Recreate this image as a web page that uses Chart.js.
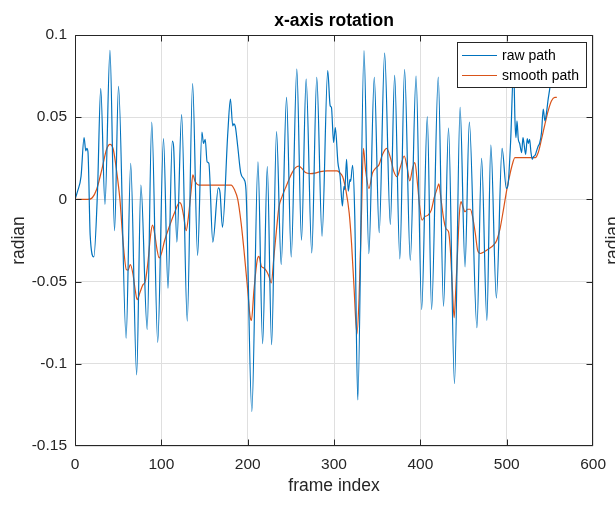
<!DOCTYPE html>
<html><head><meta charset="utf-8">
<script src="https://cdn.jsdelivr.net/npm/chart.js@4.4.1/dist/chart.umd.min.js"></script>
<style>html,body{margin:0;padding:0;background:#fff;overflow:hidden}canvas{display:block}</style>
</head><body>
<canvas id="c" width="615" height="505"></canvas>
<script>
const chartTitle = 'x-axis rotation';
const xAxisLabel = 'frame index';
const yAxisLabel = 'radian';
const seriesNames = ['raw path', 'smooth path'];
const xTickValues = [0, 100, 200, 300, 400, 500, 600];
const xTickLabels = ['0', '100', '200', '300', '400', '500', '600'];
const yTickValues = [-0.15, -0.1, -0.05, 0, 0.05, 0.1];
const yTickLabels = ['-0.15', '-0.1', '-0.05', '0', '0.05', '0.1'];

const rawX = [0,3,7,10.5,12.5,13.7,15,17.6,21.8,26,29.8,34.7,40.5,45.8,50.4,59.2,64.5,71.4,76.3,83.6,88.9,95.8,
 102.5,107.7,112.7,114.2,118,123.5,130,136.2,142,147,148.8,150.8,153,155,159.6,166,168,170.8,177,180,182.7,184,185.8,188.5,192,196,198,
 204.8,211.9,217.3,222.7,227.7,233.4,238.8,245,250.4,256.9,262.3,267.7,274.2,280,286.1,292.7,295.5,297,299.5,
 301.5,304.5,307,309.7,311.5,312.5,314.5,316.5,318.5,319.2,321.5,324,327.5,334.7,340.3,346.6,352.3,358.6,365.2,370.2,376.2,381.7,388.3,395,
 401.5,408,413,420.7,426.8,432.6,439.5,446,451.7,456.7,465.5,470.9,477,481.6,488,494.6,499.6,
 501.5,504.5,508,509.6,510.7,511.9,513.4,515,517.3,518.8,520,521.9,523.8,525,526.5,528,529.6,531,533,534.6,536.5,538,540.3,542.3,544.2,546.1,548,550,553];
const rawY = [0,0.005,0.014,0.0376,0.0295,0.031,0.029,-0.022,-0.035,0.004,0.0675,-0.003,0.0907,-0.019,0.0687,-0.0844,0.022,-0.1067,0.0087,-0.079,0.047,-0.087,
 0.037,-0.054,0.0354,0.032,-0.026,0.0516,-0.074,0.0705,-0.034,0.041,0.034,0.0366,0.0228,0.022,-0.026,0.007,0.004,-0.017,0.0407,0.061,0.0447,0.046,0.044,0.032,0.016,0.012,0.006,
 -0.129,0.0228,-0.0878,0.02,-0.0884,0.0413,-0.0396,0.062,-0.035,0.0793,-0.0248,0.0732,-0.0325,0.0742,-0.0224,0.0783,0.057,0.056,0.0346,
 0.0437,0.0224,0.0142,-0.004,0.008,0.006,0.0244,0.005,0.0122,0.011,0.0207,-0.01,-0.122,0.0905,-0.033,0.0742,-0.0203,0.089,-0.0152,0.0755,-0.0362,0.079,-0.037,0.075,
 -0.067,0.0504,-0.067,0.0744,-0.065,0.0433,-0.112,0.056,-0.041,0.047,-0.078,0.025,-0.0736,0.0331,-0.06,0.031,0.0067,
 0.009,0.035,0.08,0.047,0.0376,0.0478,0.0366,0.034,0.0285,0.0376,0.034,0.0274,0.037,0.034,0.0366,0.029,0.0244,0.026,0.027,0.0295,0.0325,0.034,0.0407,0.0549,0.0478,0.0529,0.061,0.068,0.082];

const smoothX = [0,15,20,25,31,36.6,40.5,44.3,48,52,55.7,59.5,61.5,64,67,70,72,75,78.6,81.3,84.4,87.4,89.7,92,95,97.5,
 100,103.8,109.6,115.4,121,123,125.8,128.8,131.5,134.6,136.5,139,143.5,180.8,184.6,188.5,192.3,196,
 200,202.7,204.3,207.3,211.1,213,215.8,218.8,221.9,224.6,227.3,230.4,233.4,236.1,240,243.8,247.7,251.5,255.4,259.2,263,266.9,272.7,278,284.2,291.9,
 303.4,306,310,313.7,317.6,320.3,323.3,326.5,329,331.8,334,336.5,340.5,344.4,348.2,352,355.9,360.9,365.5,369.3,373,377,381.3,384.5,387.7,391,393.6,396.6,399.2,
 402,405,408.8,412.6,416,419.5,421.4,424,427.2,429.9,432.6,434.5,436.8,439.1,441,443.3,445.2,447.1,449,451.7,454.5,457.8,460.5,463.6,466.3,469.3,473.9,479.7,484.6,488.5,492.3,496.1,
 500,503,506,509.5,533,536.5,540.3,544.2,548,551.9,555.7,558];
const smoothY = [0,0,0.001,0.006,0.018,0.0305,0.0335,0.0305,0.018,0,-0.026,-0.0427,-0.043,-0.0396,-0.045,-0.056,-0.061,-0.057,-0.052,-0.05,-0.0386,-0.0224,-0.0157,-0.02,-0.0305,-0.0356,
 -0.033,-0.025,-0.016,-0.008,-0.002,-0.003,-0.01,-0.019,-0.01,0.006,0.015,0.011,0.0087,0.0087,0.006,0,-0.014,-0.0325,
 -0.055,-0.071,-0.0736,-0.055,-0.0366,-0.0346,-0.0407,-0.0417,-0.0437,-0.0468,-0.0508,-0.0346,-0.0183,-0.005,0.002,0.007,0.012,0.0163,0.0193,0.0203,0.0187,0.0163,0.0157,0.016,0.0169,0.0173,
 0.0173,0.0165,0.0138,0.0057,-0.0085,-0.0268,-0.055,-0.082,-0.06,-0.0085,0.031,0.018,0.0067,0.0159,0.019,0.021,0.027,0.031,0.025,0.0169,0.0138,0.02,0.0264,0.02,0.0112,0.019,0.0224,0.0098,-0.0045,
 -0.0126,-0.0105,-0.0096,-0.0065,0.001,0.0067,0.0094,-0.0004,-0.0126,-0.018,-0.0197,-0.029,-0.051,-0.072,-0.055,-0.029,-0.0085,-0.0014,-0.004,-0.0075,-0.006,-0.006,-0.0106,-0.0207,-0.0309,-0.0329,-0.0319,-0.0299,-0.0279,-0.0248,-0.0177,-0.0065,
 0.0057,0.0135,0.0203,0.0254,0.0254,0.0285,0.0366,0.0457,0.0539,0.06,0.062,0.062];

const FONT = '"Liberation Sans", Arial, Helvetica, sans-serif';
const AXIS_COLOR = '#262626';
const BLUE = '#0072BD';
const ORANGE = '#D95319';

const decor = {
  id: 'decor',
  afterDatasetsDraw(chart) {
    const ctx = chart.ctx;
    const a = chart.chartArea;
    const xs = chart.scales.x, ys = chart.scales.y;
    const L = Math.round(a.left) + 0.5, R = Math.round(a.right) - 0.5;
    const T = Math.round(a.top) + 0.5, B = Math.round(a.bottom) - 0.5;
    const clamp = (v, lo, hi) => Math.min(hi, Math.max(lo, v));
    ctx.save();
    ctx.strokeStyle = AXIS_COLOR;
    ctx.lineWidth = 1;
    ctx.beginPath();
    ctx.rect(L, T, R - L, B - T);
    const tl = 6;
    xTickValues.forEach(v => {
      const px = clamp(Math.round(xs.getPixelForValue(v)) + 0.5, L, R);
      ctx.moveTo(px, B); ctx.lineTo(px, B - tl);
      ctx.moveTo(px, T); ctx.lineTo(px, T + tl);
    });
    yTickValues.forEach(v => {
      const py = clamp(Math.round(ys.getPixelForValue(v)) + 0.5, T, B);
      ctx.moveTo(L, py); ctx.lineTo(L + tl, py);
      ctx.moveTo(R, py); ctx.lineTo(R - tl, py);
    });
    ctx.stroke();

    // legend
    const lx = 457.5, ly = 42.5, lw = 129, lh = 45;
    ctx.fillStyle = '#fff';
    ctx.fillRect(lx, ly, lw, lh);
    ctx.strokeStyle = AXIS_COLOR;
    ctx.strokeRect(lx, ly, lw, lh);
    ctx.font = '14px ' + FONT;
    ctx.textBaseline = 'middle';
    ctx.textAlign = 'left';
    chart.data.datasets.forEach((ds, i) => {
      const yy = 55 + i * 20;
      ctx.strokeStyle = ds.borderColor;
      ctx.lineWidth = 1.2;
      ctx.beginPath();
      ctx.moveTo(462, yy + 0.5); ctx.lineTo(497, yy + 0.5);
      ctx.stroke();
      ctx.fillStyle = '#000';
      ctx.fillText(ds.label, 502, yy + 1);
    });

    // title
    ctx.fillStyle = '#000';
    ctx.font = 'bold 17.5px ' + FONT;
    ctx.textAlign = 'center';
    ctx.textBaseline = 'alphabetic';
    ctx.fillText(chartTitle, (a.left + a.right) / 2, 26);

    // clipped neighbour ylabel at right edge
    ctx.save();
    ctx.fillStyle = AXIS_COLOR;
    ctx.font = '17.5px ' + FONT;
    ctx.translate(617.5, (a.top + a.bottom) / 2);
    ctx.rotate(-Math.PI / 2);
    ctx.textAlign = 'center';
    ctx.textBaseline = 'alphabetic';
    ctx.fillText(yAxisLabel, 0, 0);
    ctx.restore();
    ctx.restore();
  }
};

const toPts = (xs, ys) => xs.map((x, i) => ({x: x, y: ys[i]}));

new Chart(document.getElementById('c'), {
  type: 'line',
  data: {
    datasets: [
      {label: seriesNames[0], data: toPts(rawX, rawY), borderColor: BLUE, borderWidth: 1.2, pointRadius: 0, fill: false, cubicInterpolationMode: 'monotone'},
      {label: seriesNames[1], data: toPts(smoothX, smoothY), borderColor: ORANGE, borderWidth: 1.2, pointRadius: 0, fill: false, cubicInterpolationMode: 'monotone'}
    ]
  },
  options: {
    responsive: false,
    animation: false,
    devicePixelRatio: 1,
    layout: {padding: {top: 35, right: 19, bottom: 0, left: 0}},
    plugins: {legend: {display: false}, title: {display: false}, tooltip: {enabled: false}},
    scales: {
      x: {
        type: 'linear', min: 0, max: 600,
        afterBuildTicks: s => { s.ticks = xTickValues.map(v => ({value: v})); },
        afterFit: s => { s.height = 59; },
        ticks: {callback: (v, i) => xTickLabels[i], color: AXIS_COLOR, font: {family: FONT, size: 15.5}, padding: 9, maxRotation: 0, autoSkip: false},
        grid: {color: '#dfdfdf', drawTicks: false, lineWidth: 1},
        border: {display: false},
        title: {display: true, text: xAxisLabel, color: AXIS_COLOR, font: {family: FONT, size: 17.5}, padding: {top: 0, bottom: 8}}
      },
      y: {
        type: 'linear', min: -0.15, max: 0.1,
        afterBuildTicks: s => { s.ticks = yTickValues.map(v => ({value: v})); },
        afterFit: s => { s.width = 75; },
        ticks: {callback: (v, i) => yTickLabels[i], color: AXIS_COLOR, font: {family: FONT, size: 15.5}, padding: 8, autoSkip: false},
        grid: {color: '#dfdfdf', drawTicks: false, lineWidth: 1},
        border: {display: false},
        title: {display: true, text: yAxisLabel, color: AXIS_COLOR, font: {family: FONT, size: 17.5}, padding: {top: 8.5, bottom: 0}}
      }
    }
  },
  plugins: [decor]
});
</script>
</body></html>
